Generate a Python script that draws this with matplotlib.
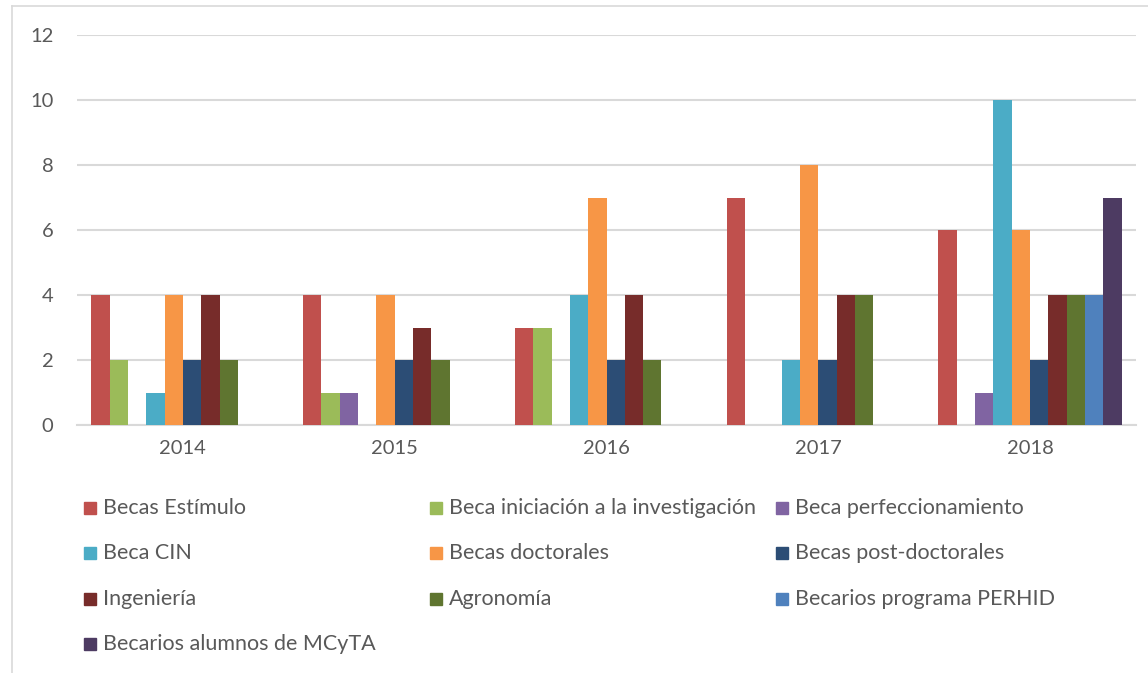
import matplotlib
matplotlib.use("Agg")
import matplotlib.pyplot as plt
from matplotlib.patches import Rectangle
from matplotlib.lines import Line2D
import numpy as np

plt.rcParams['font.family'] = ['Lato', 'DejaVu Sans']

years = ["2014", "2015", "2016", "2017", "2018"]
series_names = [
    "Becas Estímulo",
    "Beca iniciación a la investigación",
    "Beca perfeccionamiento",
    "Beca CIN",
    "Becas doctorales",
    "Becas post-doctorales",
    "Ingeniería",
    "Agronomía",
    "Becarios programa PERHID",
    "Becarios alumnos de MCyTA",
]
becas_estimulo = [4, 4, 3, 7, 6]
beca_iniciacion = [2, 1, 3, 0, 0]
beca_perfeccionamiento = [0, 1, 0, 0, 1]
beca_cin = [1, 0, 4, 2, 10]
becas_doctorales = [4, 4, 7, 8, 6]
becas_postdoctorales = [2, 2, 2, 2, 2]
ingenieria = [4, 3, 4, 4, 4]
agronomia = [2, 2, 2, 4, 4]
becarios_perhid = [0, 0, 0, 0, 4]
becarios_mcyta = [0, 0, 0, 0, 7]

values = [becas_estimulo, beca_iniciacion, beca_perfeccionamiento, beca_cin,
          becas_doctorales, becas_postdoctorales, ingenieria, agronomia,
          becarios_perhid, becarios_mcyta]
colors = ["#C0504D", "#9BBB59", "#8064A2", "#4BACC6", "#F79646",
          "#2C4D75", "#772C2A", "#5F7530", "#4F81BD", "#4D3B62"]

W, H = 1148, 673
fig = plt.figure(figsize=(W / 100, H / 100), dpi=100)

text_color = "#595959"
grid_color = "#D9D9D9"

# chart frame
fig.add_artist(Line2D([12 / W, 12 / W], [0, 1 - 6 / H], color=grid_color, lw=1.2,
                      transform=fig.transFigure))
fig.add_artist(Line2D([12 / W, 1], [1 - 6 / H, 1 - 6 / H], color=grid_color, lw=1.2,
                      transform=fig.transFigure))

ax = fig.add_axes([77 / W, (H - 425) / H, (1136 - 77) / W, (425 - 35) / H])

n = len(values)
bar_w = 0.0865
x = np.arange(len(years))
for i, (vals, c) in enumerate(zip(values, colors)):
    offs = (i - (n - 1) / 2) * bar_w
    ax.bar(x + offs, vals, width=bar_w, color=c, zorder=3)

ax.set_xlim(-0.5, len(years) - 0.5)
ax.set_ylim(0, 12)
ax.set_yticks(range(0, 13, 2))
ax.set_xticks(x)
ax.set_xticklabels(years)
ax.yaxis.grid(True, color=grid_color, lw=1.5, zorder=0)
for s in ["top", "right", "left"]:
    ax.spines[s].set_visible(False)
ax.spines["bottom"].set_color(grid_color)
ax.spines["bottom"].set_linewidth(1.5)
ax.tick_params(axis="both", length=0, labelsize=14.5, labelcolor=text_color)
ax.tick_params(axis="y", pad=17)
ax.tick_params(axis="x", pad=11)

# legend in three equal columns, filled row by row
col_x = [84, 430, 776]
row_y = [508, 553, 599, 644]
sq = 12
for i, (name, c) in enumerate(zip(series_names, colors)):
    r, k = divmod(i, 3)
    x0, y0 = col_x[k], row_y[r]
    fig.add_artist(Rectangle((x0 / W, (H - y0 - sq / 2) / H), sq / W, sq / H,
                             transform=fig.transFigure, color=c))
    fig.text((x0 + sq + 7) / W, (H - y0) / H, name, fontsize=15.5, color=text_color,
             va="center", ha="left")

fig.savefig("out.png", dpi=100, facecolor="white")
